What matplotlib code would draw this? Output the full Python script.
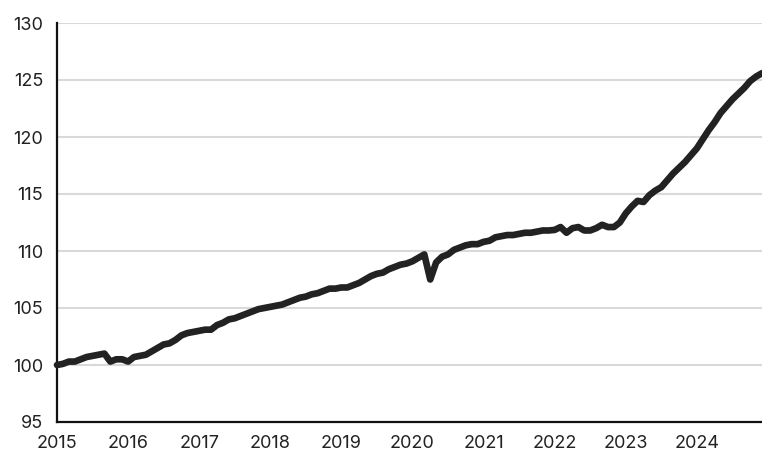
import numpy as np
import matplotlib.pyplot as plt

# monthly index, Jan 2015 - Dec 2024
y2015 = [100.0, 100.1, 100.3, 100.3, 100.5, 100.7, 100.8, 100.9, 101.0, 100.3, 100.5, 100.5]
y2016 = [100.3, 100.7, 100.8, 100.9, 101.2, 101.5, 101.8, 101.9, 102.2, 102.6, 102.8, 102.9]
y2017 = [103.0, 103.1, 103.1, 103.5, 103.7, 104.0, 104.1, 104.3, 104.5, 104.7, 104.9, 105.0]
y2018 = [105.1, 105.2, 105.3, 105.5, 105.7, 105.9, 106.0, 106.2, 106.3, 106.5, 106.7, 106.7]
y2019 = [106.8, 106.8, 107.0, 107.2, 107.5, 107.8, 108.0, 108.1, 108.4, 108.6, 108.8, 108.9]
y2020 = [109.1, 109.4, 109.7, 107.5, 109.0, 109.5, 109.7, 110.1, 110.3, 110.5, 110.6, 110.6]
y2021 = [110.8, 110.9, 111.2, 111.3, 111.4, 111.4, 111.5, 111.6, 111.6, 111.7, 111.8, 111.8]
y2022 = [111.85, 112.1, 111.6, 112.0, 112.1, 111.8, 111.8, 112.0, 112.3, 112.1, 112.1, 112.5]
y2023 = [113.3, 113.9, 114.4, 114.3, 114.9, 115.3, 115.6, 116.2, 116.8, 117.3, 117.8, 118.4]
y2024 = [119.0, 119.8, 120.6, 121.3, 122.1, 122.7, 123.3, 123.8, 124.3, 124.9, 125.3, 125.6]

values = y2015 + y2016 + y2017 + y2018 + y2019 + y2020 + y2021 + y2022 + y2023 + y2024
months = 2015 + np.arange(len(values)) / 12

years = list(range(2015, 2025))
yticks = [95, 100, 105, 110, 115, 120, 125, 130]

plt.rcParams['font.family'] = ['Inter', 'DejaVu Sans']

fig = plt.figure(figsize=(7.62, 4.5), dpi=100)
ax = fig.add_axes([57 / 762, 28 / 450, 1 - 57 / 762, 399 / 450])

ax.plot(months, values, color='#222222', linewidth=4.8, solid_capstyle='round',
        solid_joinstyle='round', zorder=3, clip_on=False)

ax.set_xlim(2015, months[-1])
ax.set_ylim(95, 130)
ax.set_xticks(years)
ax.set_yticks(yticks)
ax.tick_params(length=0, labelsize=13, colors='#222222')
ax.tick_params(axis='y', pad=10)
ax.tick_params(axis='x', pad=9)
ax.grid(axis='y', color='#d9d9d9', linewidth=1.5)
ax.set_axisbelow(True)

for s in ['top', 'right']:
    ax.spines[s].set_visible(False)
for s in ['left', 'bottom']:
    ax.spines[s].set_color('#111111')
    ax.spines[s].set_linewidth(1.6)

fig.savefig('out.png', dpi=100)
